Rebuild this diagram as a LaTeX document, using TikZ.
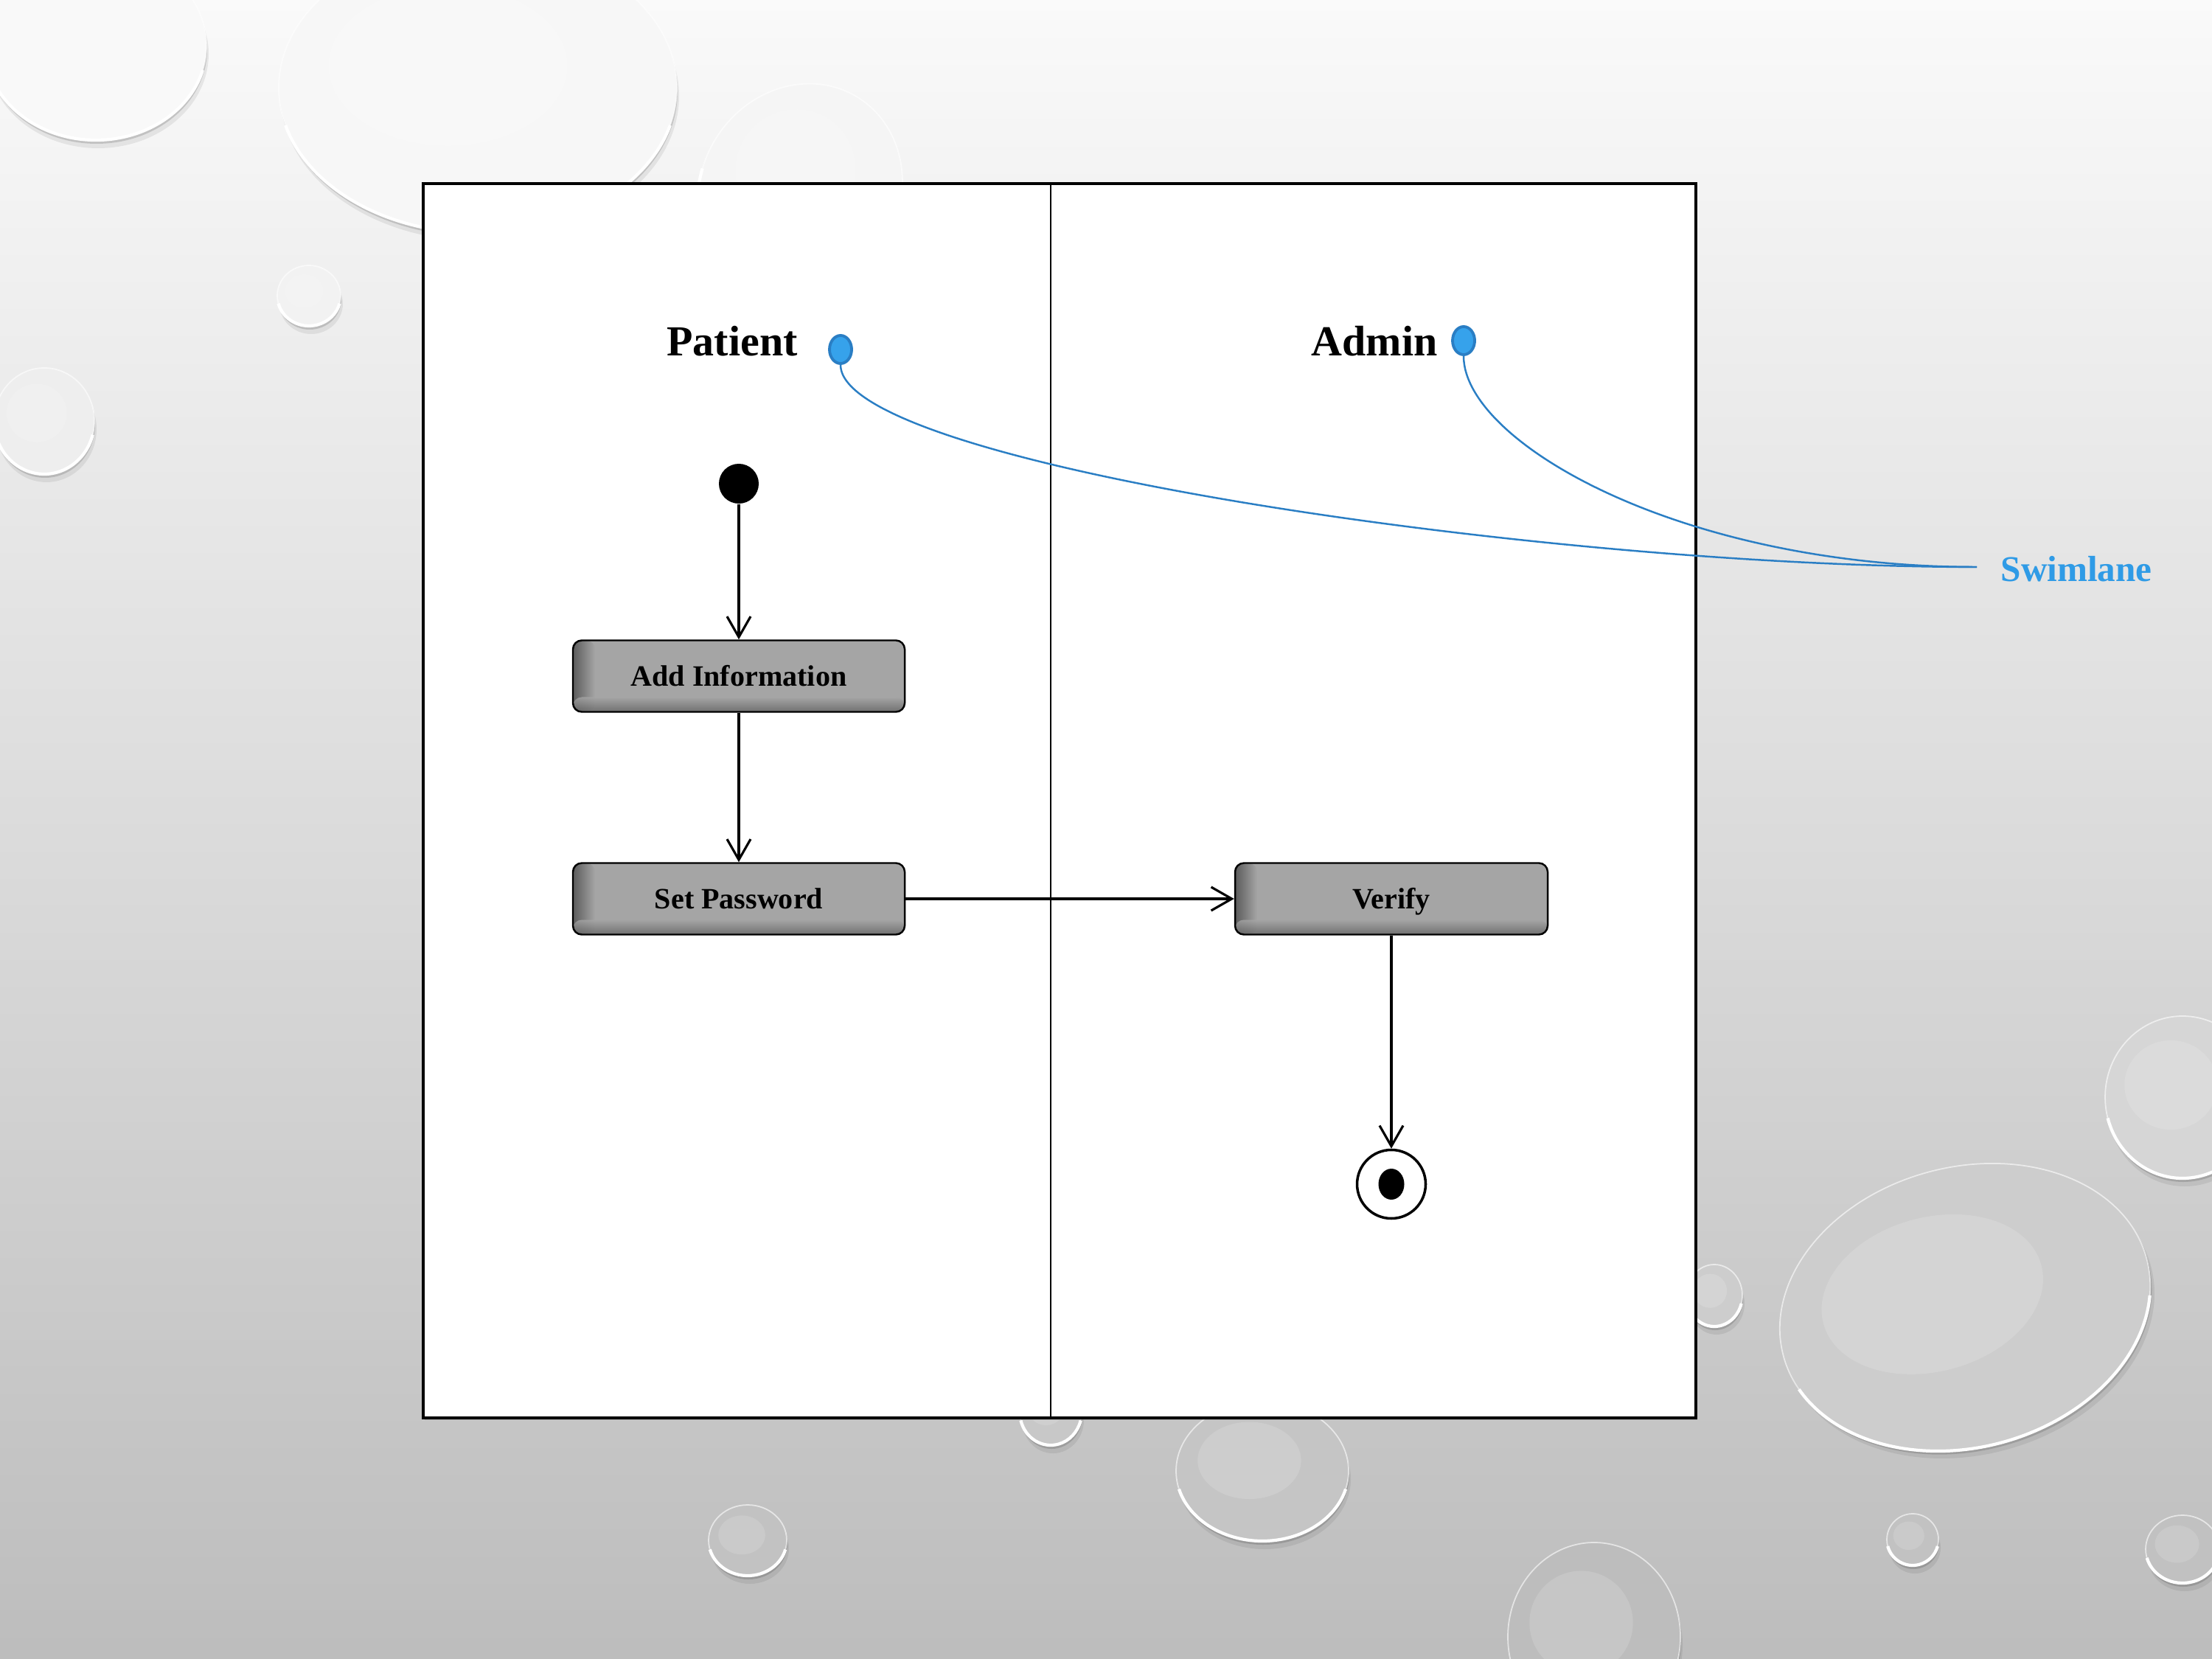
\documentclass[tikz,border=0pt]{standalone}
\usepackage{fontspec}
\setmainfont{Liberation Serif}
\usetikzlibrary{arrows.meta,shapes.geometric,shadows}

\definecolor{lanecol}{HTML}{2A7EC4}
\definecolor{dotfill}{HTML}{36A2EB}
\definecolor{swimtext}{HTML}{2F9BE6}
\definecolor{actgray}{HTML}{A5A5A5}

% one water drop of the background: x, y, x radius, y radius, rotation
\newcommand{\waterdrop}[5]{%
  \pgfmathsetmacro\dropshade{(-(#2)<11.25) ? 2+0.8*(-(#2)) : 11+1.36*(-(#2)-11.25)}%
  \begin{scope}[shift={(#1,#2)},rotate=#5]
    \fill[black,opacity=0.07] (0.03,-0.11) ellipse ({#3} and {#4});
    \fill[black,opacity=0.14] (0.01,-0.05) ellipse ({#3} and {#4});
    \fill[black!\dropshade] (0,0) ellipse ({#3} and {#4});
    \fill[white,opacity=0.14] ({-0.15*#3},{0.15*#4}) ellipse ({0.6*#3} and {0.55*#4});
    \draw[white,opacity=0.6,line width=0.5pt] (0,0) ellipse ({#3} and {#4});
    \draw[white,line width=1.2pt] ({#3*cos(195)},{#4*sin(195)})
      arc[start angle=195, end angle=345, x radius=#3, y radius=#4];
  \end{scope}}

\tikzset{
  activity/.style={draw=black, line width=0.7pt, rounded corners=0.12cm,
    minimum width=4.5cm, minimum height=0.97cm, inner sep=0pt,
    text height=0.27cm, text depth=0pt,
    font=\fontsize{11.4}{13}\selectfont\bfseries,
    path picture={
      \fill[actgray] (path picture bounding box.south west) rectangle (path picture bounding box.north east);
      \shade[left color=black!45!actgray, right color=actgray] (path picture bounding box.south west) rectangle ([xshift=0.3cm]path picture bounding box.north west);
      \shade[bottom color=black!40!actgray, top color=actgray, opacity=0.8] (path picture bounding box.south west) rectangle ([yshift=0.2cm]path picture bounding box.south east);
    }},
  lanename/.style={font=\fontsize{16.5}{19}\selectfont\bfseries, anchor=base, inner sep=0pt},
  lanedot/.style={ellipse, draw=lanecol, line width=1.1pt, fill=dotfill,
    minimum width=0.30cm, minimum height=0.38cm, inner sep=0pt},
  startnode/.style={circle, fill=black, minimum size=0.54cm, inner sep=0pt},
  endnode/.style={circle, draw=black, line width=1pt, fill=white, minimum size=0.93cm, inner sep=0pt,
    path picture={\fill[black] (path picture bounding box.center) ellipse (0.175cm and 0.21cm);}},
  flow/.style={draw=black, line width=0.9pt, -{Straight Barb[length=0.28cm,width=0.32cm]}},
  lanelink/.style={draw=lanecol, line width=0.7pt},
}

\begin{document}
\begin{tikzpicture}
    \useasboundingbox (0,0) rectangle (30,-22.5);
    % Background: grey slide with water drops
    \shade[top color=black!2, middle color=black!11, bottom color=black!26] (0,0) rectangle (30,-22.5);
    \waterdrop{1.30}{-0.62}{1.50}{1.28}{0}
    \waterdrop{6.48}{-1.19}{2.70}{1.97}{0}
    \waterdrop{10.85}{-2.60}{1.35}{1.50}{-30}
    \waterdrop{4.19}{-4.01}{0.43}{0.41}{0}
    \waterdrop{0.60}{-5.71}{0.68}{0.72}{0}
    \waterdrop{29.60}{-14.88}{1.05}{1.10}{0}
    \waterdrop{26.65}{-17.73}{2.55}{1.90}{15}
    \waterdrop{23.25}{-17.57}{0.38}{0.42}{0}
    \waterdrop{14.25}{-19.15}{0.42}{0.45}{0}
    \waterdrop{17.12}{-19.95}{1.17}{0.95}{0}
    \waterdrop{10.14}{-20.89}{0.53}{0.48}{0}
    \waterdrop{21.62}{-22.20}{1.17}{1.28}{0}
    \waterdrop{25.94}{-20.88}{0.35}{0.35}{0}
    \waterdrop{29.60}{-21.01}{0.50}{0.46}{0}

    % Swimlane frame and divider
    \draw[line width=1.2pt, fill=white,
      drop shadow={shadow xshift=0.02cm, shadow yshift=-0.03cm, opacity=0.35}]
      (5.74,-2.49) rectangle (23.00,-19.23);
    \draw[line width=0.8pt] (14.25,-2.49) -- (14.25,-19.23);

    % Lane names with their marker dots
    \node[lanename] (patient) at (9.93,-4.83) {Patient};
    \node[lanename] (admin) at (18.64,-4.83) {Admin};
    \node[lanedot] (pdot) at (11.40,-4.74) {};
    \node[lanedot] (adot) at (19.85,-4.62) {};

    % Activities
    \node[startnode] (start) at (10.02,-6.56) {};
    \node[activity] (addinfo) at (10.02,-9.17) {Add Information};
    \node[activity] (setpw) at (10.02,-12.19) {Set Password};
    \node[activity, minimum width=4.24cm] (verify) at (18.87,-12.19) {Verify};
    \node[endnode] (finish) at (18.87,-16.06) {};

    \draw[flow] (start) -- (addinfo);
    \draw[flow] (addinfo) -- (setpw);
    \draw[flow] (setpw) -- (verify);
    \draw[flow] (verify) -- (finish);

    % Callout for the lanes
    \node[anchor=base west, inner sep=0pt, text=swimtext,
      font=\fontsize{14}{17}\selectfont\bfseries] (swim) at (27.13,-7.89) {Swimlane};
    \coordinate (tip) at (26.81,-7.69);
    \draw[lanelink] (pdot.south) .. controls (11.40,-6.30) and (21.0,-7.69) .. (tip);
    \draw[lanelink] (adot.south) .. controls (19.85,-6.0) and (22.8,-7.69) .. (tip);
\end{tikzpicture}
\end{document}
